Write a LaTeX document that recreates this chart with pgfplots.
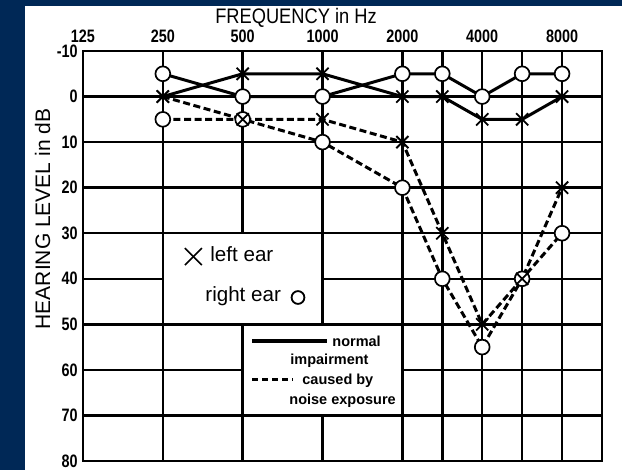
\documentclass[border=0pt]{standalone}
\usepackage{pgfplots}
\pgfplotsset{compat=1.18}
\usepackage{fontspec}
\setmainfont{Liberation Sans}
\newfontfamily\condfont[FakeStretch=0.8]{Liberation Sans}
\newfontfamily\titlefont[FakeStretch=0.87]{Liberation Sans}
\definecolor{navy}{RGB}{0,40,86}

\begin{document}
\begin{tikzpicture}[x=1pt,y=1pt]
\path[use as bounding box] (0,0) rectangle (311,235);
\fill[navy] (0,0) rectangle (311,235);
\fill[white] (12.5,0) rectangle (311,232);
\begin{axis}[
  at={(41.5pt,4.5pt)}, anchor=south west,
  scale only axis, width=259.5pt, height=205pt,
  xmin=0, xmax=6.5, ymin=-10, ymax=80, y dir=reverse,
  xtick={0,1,2,3,4,5,6}, xticklabels={125,250,500,1000,2000,4000,8000},
  extra x ticks={4.5,5.5}, extra x tick labels={},
  extra x tick style={grid=major, major tick length=0pt},
  ytick={-10,0,10,20,30,40,50,60,70,80},
  yticklabels={-10,0,10,20,30,40,50,60,70,80},
  xticklabel pos=upper,
  grid=major, major grid style={black, line width=1.25pt},
  major tick length=0pt,
  axis line style={black, line width=1.3pt},
  tick label style={font=\condfont\bfseries\fontsize{9}{9}\selectfont, inner sep=0pt},
  xticklabel style={yshift=4pt},
  yticklabel style={xshift=-2.5pt},
  clip=false,
]
\filldraw[fill=white, draw=black, line width=1.25pt] (axis cs:1,30) rectangle (axis cs:3,50);
\filldraw[fill=white, draw=black, line width=1.25pt] (axis cs:2,50) rectangle (axis cs:4,70);

% noise exposure, right ear
\addplot[black, line width=1.5pt, dash pattern=on 3.5pt off 1.8pt, mark=*, mark size=3.7pt,
  mark options={solid, fill=white, draw=black, line width=0.85pt}] coordinates {
  (1,5) (2,5) (3,10) (4,20) (4.5,40) (5,55) (5.5,40) (6,30)};
% normal, right ear
\addplot[black, line width=1.5pt, mark=*, mark size=3.7pt,
  mark options={solid, fill=white, draw=black, line width=0.85pt}] coordinates {
  (1,-5) (2,0) (3,0) (4,-5) (4.5,-5) (5,0) (5.5,-5) (6,-5)};
% noise exposure, left ear
\addplot[black, line width=1.5pt, dash pattern=on 3.5pt off 1.8pt, mark=x, mark size=4.3pt,
  mark options={solid, line width=0.9pt}] coordinates {
  (1,0) (2,5) (3,5) (4,10) (4.5,30) (5,50) (5.5,40) (6,20)};
% normal, left ear
\addplot[black, line width=1.5pt, mark=x, mark size=4.3pt,
  mark options={solid, line width=0.9pt}] coordinates {
  (1,0) (2,-5) (3,-5) (4,0) (4.5,0) (5,5) (5.5,5) (6,0)};
\end{axis}

\node[anchor=base, font=\titlefont\fontsize{10.5}{10.5}\selectfont, inner sep=0pt] at (148,223.3) {FREQUENCY in Hz};
\node[anchor=base, rotate=90, font=\fontsize{10.5}{10.5}\selectfont, inner sep=0pt] at (25,125.5) {HEARING LEVEL in dB};

% legend box 1
\draw[line width=0.75pt] (92.45,102.45) -- (100.95,110.95);
\draw[line width=0.75pt] (92.45,110.95) -- (100.95,102.45);
\node[anchor=base west, font=\fontsize{10.3}{10.3}\selectfont, inner sep=0pt] at (105,104) {left ear};
\node[anchor=base west, font=\fontsize{10.3}{10.3}\selectfont, inner sep=0pt] at (102.5,84) {right ear};
\draw[line width=0.9pt] (149,86.25) circle (3.2pt);

% legend box 2
\draw[line width=1.6pt] (126,64.5) -- (163.5,64.5);
\node[anchor=base west, font=\bfseries\fontsize{7.25}{7.25}\selectfont, inner sep=0pt] at (166,61.5) {normal};
\node[anchor=base west, font=\bfseries\fontsize{7.25}{7.25}\selectfont, inner sep=0pt] at (145,52.5) {impairment};
\draw[line width=1.5pt, dash pattern=on 3.2pt off 1.8pt] (126,45) -- (146.5,45);
\node[anchor=base west, font=\bfseries\fontsize{7.25}{7.25}\selectfont, inner sep=0pt] at (151,42.5) {caused by};
\node[anchor=base west, font=\bfseries\fontsize{7.25}{7.25}\selectfont, inner sep=0pt] at (144.5,32.5) {noise exposure};
\end{tikzpicture}
\end{document}
